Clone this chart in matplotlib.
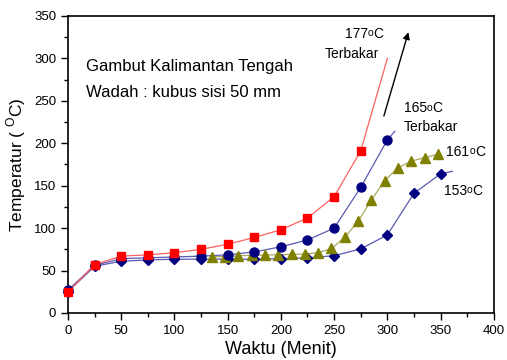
import matplotlib
matplotlib.use("Agg")
import matplotlib.pyplot as plt
from matplotlib.ticker import MultipleLocator

plt.rcParams['font.family'] = ['Liberation Sans', 'DejaVu Sans']
plt.rcParams['mathtext.fontset'] = 'custom'
plt.rcParams['mathtext.rm'] = 'Liberation Sans'

# 177 C series (red squares); last point is line end only
x177 = [0, 25, 50, 75, 100, 125, 150, 175, 200, 225, 250, 275, 300]
y177 = [25, 57, 67, 68.5, 71, 75, 81, 89, 98, 112, 137, 191, 300]

# 165 C series (navy circles)
x165 = [0, 25, 50, 75, 100, 125, 150, 175, 200, 225, 250, 275, 300, 307]
y165 = [27, 56, 64, 65, 66, 67, 68.5, 72, 78, 86, 100, 148, 204, 214]

# 161 C series (olive triangles)
x161 = [135, 147.5, 160, 172.5, 185, 197.5, 210, 222.5, 235, 247.5, 260,
        272.5, 285, 297.5, 310, 322.5, 335, 347.5]
y161 = [66, 66.5, 67.5, 68, 68.3, 68.5, 69, 69.5, 71, 76, 89,
        108, 133, 156, 171, 179, 183, 187]

# 153 C series (navy diamonds)
x153 = [0, 25, 50, 75, 100, 125, 150, 175, 200, 225, 250, 275, 300, 325, 350, 361]
y153 = [25, 55, 61, 62.5, 63.4, 63.4, 63.4, 63.4, 64, 65, 67.5, 75.5, 92, 141, 164, 167]

fig = plt.figure(figsize=(5.07, 3.6), dpi=100)
ax = fig.add_axes([0.134, 0.1306, 0.840, 0.825])

ax.plot(x153, y153, color='#5a5ab4', lw=0.9, zorder=2)
ax.plot(x153[:-1], y153[:-1], ls='none', marker='D', ms=5, color='#000080', clip_on=False, zorder=3)

ax.plot(x161, y161, color='#a8a860', lw=0.9, zorder=2)
ax.plot(x161, y161, ls='none', marker='^', ms=6.5, color='#808000', clip_on=False, zorder=3)

ax.plot(x165, y165, color='#5a5ab4', lw=0.9, zorder=2)
ax.plot(x165[:-1], y165[:-1], ls='none', marker='o', ms=6.5, color='#000080', clip_on=False, zorder=4)

ax.plot(x177, y177, color='#ff6060', lw=0.9, zorder=2)
ax.plot(x177[:-1], y177[:-1], ls='none', marker='s', ms=6, color='#ff0000', clip_on=False, zorder=5)

ax.set_xlim(0, 400)
ax.set_ylim(0, 350)
ax.xaxis.set_major_locator(MultipleLocator(50))
ax.xaxis.set_minor_locator(MultipleLocator(25))
ax.yaxis.set_major_locator(MultipleLocator(50))
ax.yaxis.set_minor_locator(MultipleLocator(25))
ax.tick_params(which='both', direction='out', top=False, right=False, labelsize=9.5, width=1)
ax.tick_params(which='major', length=5)
ax.tick_params(which='minor', length=3)
for s in ax.spines.values():
    s.set_linewidth(1.2)

ax.set_xlabel('Waktu (Menit)', fontsize=13, labelpad=3)
ax.set_ylabel(r'Temperatur ( $^{\mathrm{O}}$C)', fontsize=12.5, labelpad=4)

ax.text(17, 285, 'Gambut Kalimantan Tengah', fontsize=12, va='baseline')
ax.text(17, 255, 'Wadah : kubus sisi 50 mm', fontsize=12, va='baseline')


def deg_label(x, y, num):
    t1 = ax.text(x, y, num, fontsize=10, va='bottom')
    t2 = ax.annotate('o', xy=(1, 0), xycoords=t1, xytext=(0, 1.8),
                     textcoords='offset points', fontsize=7.5, va='bottom')
    ax.annotate('C', xy=(1, 0), xycoords=(t2, t1), fontsize=10, va='bottom')


deg_label(260, 321, '177')
ax.text(241, 297, 'Terbakar', fontsize=10, va='bottom')
deg_label(315.5, 233, '165')
ax.text(315, 211, 'Terbakar', fontsize=10, va='bottom')
deg_label(355.5, 182, '161')
deg_label(353, 136, '153')

ax.annotate('', xy=(320.5, 334), xytext=(296, 229),
            arrowprops=dict(arrowstyle='-|>', color='black', lw=1, mutation_scale=10))

fig.savefig('out.png', dpi=100)
